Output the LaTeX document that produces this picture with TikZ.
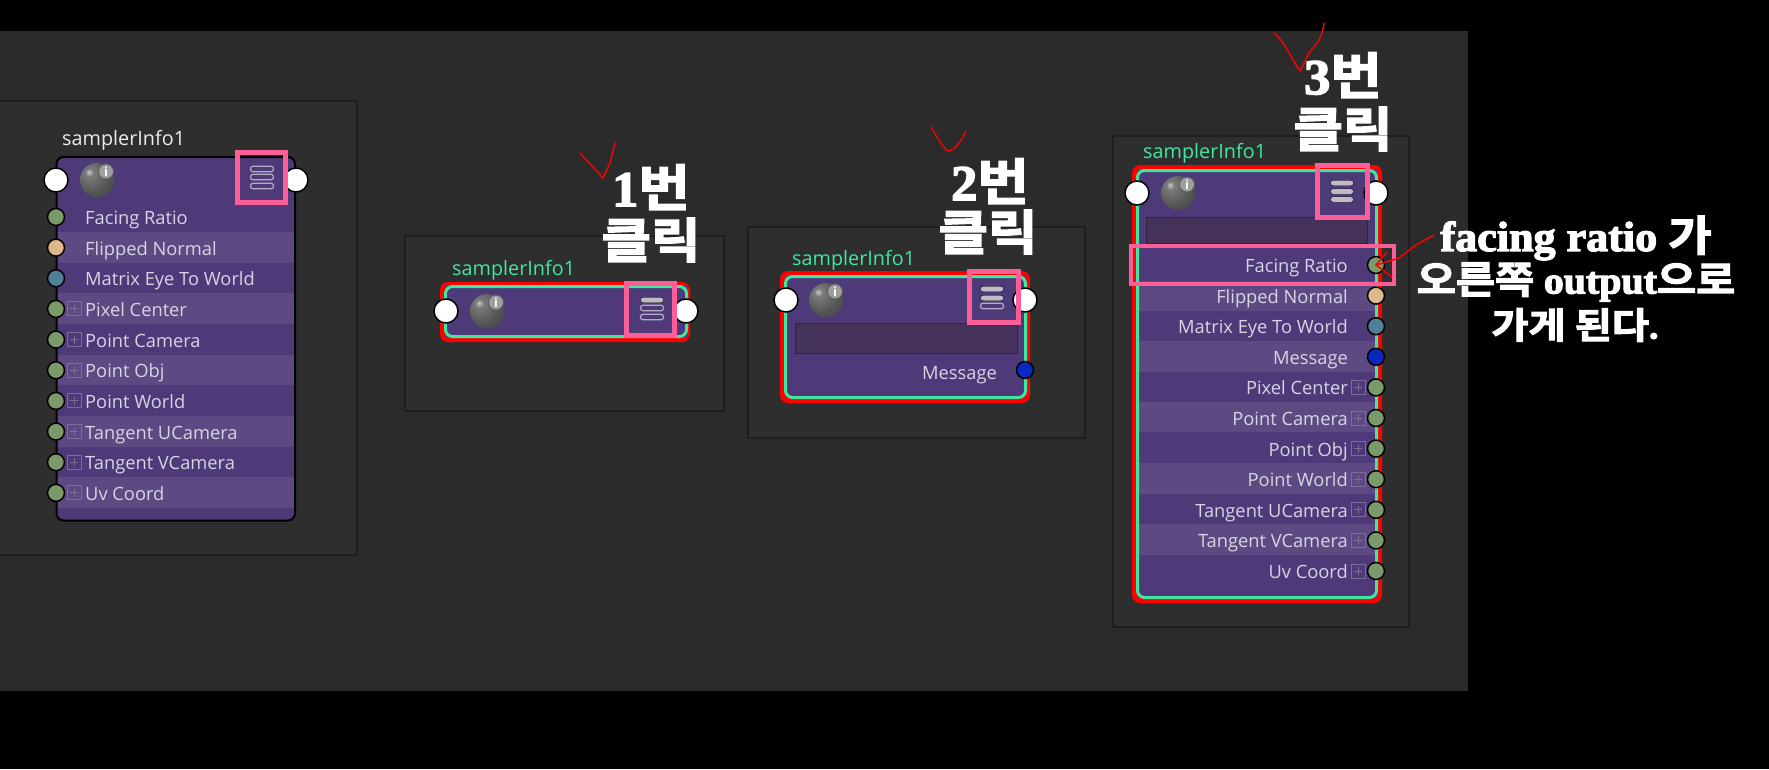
\documentclass[tikz,border=0pt]{standalone}
\usepackage{fontspec}
\setmainfont{Open Sans}
\newfontfamily\cjk[FakeBold=3,FakeStretch=1.12]{Noto Sans CJK KR Bold}
\newfontfamily\ltn[FakeBold=3,FakeStretch=1.05]{Liberation Serif Bold}
\newcommand{\rowfont}{\fontsize{18.3}{20}\selectfont}
\definecolor{bgdark}{HTML}{2B2B2B}
\definecolor{paneldark}{HTML}{2E2E2E}
\definecolor{panelline}{HTML}{1E1E1E}
\definecolor{nodepurple}{HTML}{4E3A78}
\definecolor{rowlight}{HTML}{5E4A82}
\definecolor{barpurple}{HTML}{453258}
\definecolor{selgreen}{HTML}{3FE8A0}
\definecolor{pinkbox}{HTML}{FC5F98}
\definecolor{portgreen}{HTML}{7A9A6A}
\definecolor{porttan}{HTML}{DDB98A}
\definecolor{portteal}{HTML}{4F8098}
\definecolor{portblue}{HTML}{0A28C0}
\definecolor{rowtext}{HTML}{D8D4E4}
\definecolor{plusline}{HTML}{7C6E98}
\definecolor{iconline}{HTML}{B4ACC4}
\definecolor{iconfill}{HTML}{BEBBC6}
\pgfdeclareradialshading{ballgrey}{\pgfpoint{-12bp}{12bp}}{color(0bp)=(black!20); color(6bp)=(black!52); color(25bp)=(black!66); color(50bp)=(black!76); color(80bp)=(black!85)}
\tikzset{
  x=1pt,y=-1pt,
  panelbox/.style={fill=paneldark,draw=panelline,line width=1.5pt},
  redbox/.style={fill=red,rounded corners=8pt},
  selbox/.style={draw=selgreen,line width=3pt,rounded corners=7pt},
  rowband/.style={fill=rowlight},
  pinkframe/.style={draw=pinkbox,line width=4.5pt},
  titletext/.style={font=\fontsize{19.8}{20}\selectfont,inner sep=0pt,anchor=base west},
  rowlabelL/.style={text=rowtext,font=\rowfont,inner sep=0pt,anchor=base west},
  rowlabelR/.style={text=rowtext,font=\rowfont,inner sep=0pt,anchor=base east},
  whiteport/.style={circle,fill=white,draw=black,line width=1.5pt,minimum size=24pt,inner sep=0pt},
  attrport/.style={circle,draw=black,line width=1.5pt,minimum size=17pt,inner sep=0pt},
  plusbox/.style={draw=plusline,line width=1pt},
  iconon/.style={fill=iconfill,rounded corners=2.5pt},
  iconoff/.style={draw=iconline,line width=1.2pt,rounded corners=2.5pt},
  ballnode/.style={circle,minimum size=34pt,inner sep=0pt,shading=ballgrey},
  badge/.style={circle,fill=black!38,draw=black!65,line width=.8pt,minimum size=15pt,inner sep=0pt,text=white,font=\bfseries\fontsize{12.5}{12.5}\selectfont},
  redpen/.style={draw=red,line width=1.4pt,line cap=round,line join=round},
  bigtext/.style={text=white,inner sep=0pt,align=center},
}
\newcommand{\infoball}[3]{%
  \node[ballnode] (ball#1) at (#2,#3) {};
  \node[badge] (info#1) at (#2+9,#3-8.5) {i};
}
\newcommand{\plusat}[2]{%
  \draw[plusbox] (#1-7,#2-7) rectangle (#1+7,#2+7);
  \draw[plusbox] (#1-4,#2) -- (#1+4,#2) (#1,#2-4) -- (#1,#2+4);
}
\newcommand{\menuicon}[7]{%
  \draw[#5] (#1-11.5,#2-2.75) rectangle (#1+11.5,#2+2.75);
  \draw[#6] (#1-11.5,#3-2.75) rectangle (#1+11.5,#3+2.75);
  \draw[#7] (#1-11.5,#4-2.75) rectangle (#1+11.5,#4+2.75);
}
\begin{document}
\begin{tikzpicture}
\useasboundingbox (0,0) rectangle (1769,769);
\fill[black] (0,0) rectangle (1769,769);
\fill[bgdark] (0,31) rectangle (1468,691);
% panels
\draw[panelbox] (-6,101) rectangle (357,555);
\draw[panelbox] (405,236) rectangle (724,411);
\draw[panelbox] (748,227) rectangle (1085,438);
\draw[panelbox] (1113,136) rectangle (1409,627);

% ---------- node 1 ----------
\fill[nodepurple,draw=black,line width=2pt,rounded corners=7pt] (56.5,157) rectangle (295,520.5);
\foreach \yy in {232,293.3,354.6,416,477.3}
  \fill[rowband] (57.5,\yy) rectangle (294,\yy+30.6);
\node[titletext,text=white!92!black] (title1) at (62,145) {samplerInfo1};
\node[whiteport] (in1) at (56,180) {};
\node[whiteport] (out1) at (296,180) {};
\infoball{1}{97}{180}
\menuicon{262}{169}{177}{186}{iconoff}{iconoff}{iconoff}
\draw[pinkframe] (237.5,152.5) rectangle (285.5,202.5);
\foreach \i/\lab/\col in {0/Facing Ratio/portgreen,1/Flipped Normal/porttan,2/Matrix Eye To World/portteal}{
  \pgfmathsetmacro{\yy}{217+30.65*\i}
  \node[attrport,fill=\col] (pa\i) at (56,\yy) {};
  \node[rowlabelL] (la\i) at (85,\yy+7.5) {\lab};
}
\foreach \i/\lab in {3/Pixel Center,4/Point Camera,5/Point Obj,6/Point World,7/Tangent UCamera,8/Tangent VCamera,9/Uv Coord}{
  \pgfmathsetmacro{\yy}{217+30.65*\i}
  \node[attrport,fill=portgreen] (pa\i) at (56,\yy) {};
  \plusat{74}{\yy}
  \node[rowlabelL] (la\i) at (85,\yy+7.5) {\lab};
}

% ---------- node 2 ----------
\fill[redbox] (440,282) rectangle (690,342);
\fill[nodepurple] (445,286) rectangle (687,337);
\draw[selbox] (445.5,286.5) rectangle (686.5,336.5);
\node[titletext,text=selgreen] (title2) at (452,275) {samplerInfo1};
\node[whiteport] (in2) at (446,311) {};
\node[whiteport] (out2) at (686,311) {};
\infoball{2}{487}{311}
\menuicon{652}{300}{308}{317}{iconon}{iconoff}{iconoff}
\draw[pinkframe] (626.5,283.5) rectangle (674.5,335.5);

% ---------- node 3 ----------
\fill[redbox] (780,271) rectangle (1030,403);
\fill[nodepurple] (785,276) rectangle (1026,398);
\fill[barpurple,draw=black!30!barpurple,line width=1pt] (795,323) rectangle (1017,353);
\draw[selbox] (785.5,276.5) rectangle (1025.5,397.5);
\node[titletext,text=selgreen] (title3) at (792,265) {samplerInfo1};
\node[whiteport] (in3) at (786,300) {};
\node[whiteport] (out3) at (1025,300) {};
\infoball{3}{826}{300}
\menuicon{992}{289}{298}{306}{iconon}{iconon}{iconoff}
\draw[pinkframe] (969.5,271.5) rectangle (1018.5,322.5);
\node[rowlabelR] (msg3) at (997,379) {Message};
\node[attrport,fill=portblue] (pmsg3) at (1025,370) {};

% ---------- node 4 ----------
\fill[redbox] (1132,165) rectangle (1382,603);
\fill[nodepurple] (1137,170) rectangle (1377,598);
\fill[barpurple,draw=black!30!barpurple,line width=1pt] (1146,217) rectangle (1367,243);
\foreach \yy in {280.5,341,401.7,463,524.3}
  \fill[rowband] (1137,\yy) rectangle (1377,\yy+30.6);
\draw[selbox] (1137.5,170.5) rectangle (1376.5,597.5);
\node[titletext,text=selgreen] (title4) at (1143,158) {samplerInfo1};
\node[whiteport] (in4) at (1137,193) {};
\node[whiteport] (out4) at (1376,193) {};
\infoball{4}{1178}{193}
\menuicon{1342}{183}{191.5}{199.5}{iconon}{iconon}{iconon}
\draw[pinkframe] (1317.5,165.5) rectangle (1367.5,217.5);
\foreach \i/\lab/\col in {0/Facing Ratio/portgreen,1/Flipped Normal/porttan,2/Matrix Eye To World/portteal,3/Message/portblue}{
  \pgfmathsetmacro{\yy}{265+30.6*\i}
  \node[attrport,fill=\col] (pb\i) at (1376,\yy) {};
  \node[rowlabelR] (lb\i) at (1348,\yy+7.5) {\lab};
}
\foreach \i/\lab in {4/Pixel Center,5/Point Camera,6/Point Obj,7/Point World,8/Tangent UCamera,9/Tangent VCamera,10/Uv Coord}{
  \pgfmathsetmacro{\yy}{265+30.6*\i}
  \node[attrport,fill=portgreen] (pb\i) at (1376,\yy) {};
  \plusat{1358}{\yy}
  \node[rowlabelR] (lb\i) at (1348,\yy+7.5) {\lab};
}
\draw[pinkframe] (1131,246) rectangle (1394,284);

% ---------- big labels ----------
\node[bigtext,font=\fontsize{50}{50}\selectfont] (n1) at (651,187) {{\ltn 1}{\cjk 번}};
\node[bigtext,font=\fontsize{48}{48}\selectfont] (c1) at (651,240) {\cjk 클릭};
\node[bigtext,font=\fontsize{50}{50}\selectfont] (n2) at (990,181) {{\ltn 2}{\cjk 번}};
\node[bigtext,font=\fontsize{48}{48}\selectfont] (c2) at (988,232) {\cjk 클릭};
\node[bigtext,font=\fontsize{50}{50}\selectfont] (n3) at (1343,75) {{\ltn 3}{\cjk 번}};
\node[bigtext,font=\fontsize{48}{48}\selectfont] (c3) at (1343,129) {\cjk 클릭};
\node[bigtext,font=\fontsize{42}{42}\selectfont] (note1) at (1576,238) {{\ltn facing ratio }{\cjk 가}};
\node[bigtext,font=\fontsize{38}{38}\selectfont] (note2) at (1576,282) {{\cjk 오른쪽 }{\ltn output}{\cjk 으로}};
\node[bigtext,font=\fontsize{36}{36}\selectfont] (note3) at (1575,325) {{\cjk 가게 된다}{\ltn .}};

% ---------- red pen ----------
\coordinate (k1a) at (580,153); \coordinate (k1b) at (603,178); \coordinate (k1c) at (610,163); \coordinate (k1d) at (615,143);
\coordinate (k2a) at (931,127); \coordinate (k2b) at (949,151); \coordinate (k2c) at (966,131);
\coordinate (k3a) at (1274,33); \coordinate (k3b) at (1300,71); \coordinate (k3c) at (1309,53); \coordinate (k3d) at (1320,40); \coordinate (k3e) at (1324,23);
\coordinate (s1) at (1434,235); \coordinate (s2) at (1416,245); \coordinate (s3) at (1399,258);
\coordinate (b1) at (1387,252); \coordinate (b2) at (1392,277);
\draw[redpen] (k1a) -- (k1b) -- (k1c) -- (k1d);
\draw[redpen] (k2a) .. controls (940,142) and (945,151) .. (k2b) .. controls (955,150) and (962,140) .. (k2c);
\draw[redpen] (k3a) .. controls (1285,42) and (1292,60) .. (k3b) -- (k3c) .. controls (1313,47) and (1322,42) .. (k3e);
\draw[redpen] (s1) -- (s2) -- (s3) -- (pb0.center);
\draw[redpen] (b1) -- (pb0.center) -- (b2);
\end{tikzpicture}
\end{document}
